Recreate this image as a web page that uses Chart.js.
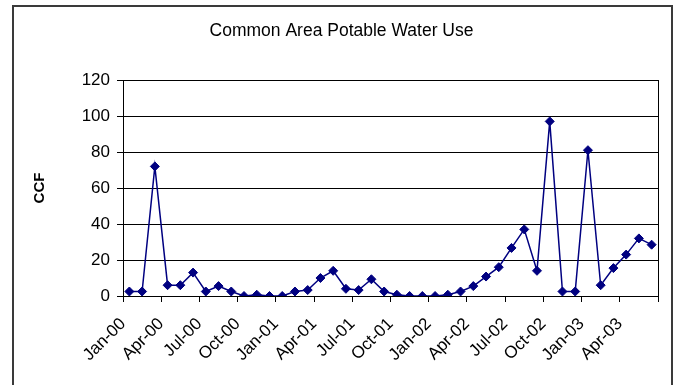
<!DOCTYPE html>
<html>
<head>
<meta charset="utf-8">
<script src="https://cdn.jsdelivr.net/npm/chart.js@4.4.1/dist/chart.umd.min.js"></script>
<style>
    html, body { margin: 0; padding: 0; background: #fff; }
    #wrap { position: relative; width: 675px; height: 385px; overflow: hidden; }
    #frame { position: absolute; left: 12px; top: 5px; width: 657px; height: 420px; border: 2px solid #3a3a3a; }
    #waterChart { position: absolute; left: 0; top: 0; }
</style>
</head>
<body>
<div id="wrap">
    <div id="frame"></div>
    <canvas id="waterChart" width="675" height="385"></canvas>
</div>
<script>
// Monthly readings, Jan-00 .. Jun-03
const months = [
    'Jan-00', 'Feb-00', 'Mar-00', 'Apr-00', 'May-00', 'Jun-00', 'Jul-00', 'Aug-00', 'Sep-00', 'Oct-00', 'Nov-00', 'Dec-00',
    'Jan-01', 'Feb-01', 'Mar-01', 'Apr-01', 'May-01', 'Jun-01', 'Jul-01', 'Aug-01', 'Sep-01', 'Oct-01', 'Nov-01', 'Dec-01',
    'Jan-02', 'Feb-02', 'Mar-02', 'Apr-02', 'May-02', 'Jun-02', 'Jul-02', 'Aug-02', 'Sep-02', 'Oct-02', 'Nov-02', 'Dec-02',
    'Jan-03', 'Feb-03', 'Mar-03', 'Apr-03', 'May-03', 'Jun-03'
];
const ccfValues = [
    2.5, 2.5, 72, 6, 6, 13, 2.5, 5.5, 2.5, 0, 0.7, 0,
    0, 2.5, 3.3, 10, 14, 4, 3.3, 9.3, 2.5, 0.7, 0, 0,
    0, 0.7, 2.5, 5.5, 10.8, 16, 26.7, 37, 14, 97, 2.5, 2.5,
    81, 6, 15.5, 23, 32, 28.5
];
// labels sit on the quarter boundaries, last boundary has no label
const xTickLabels = [
    'Jan-00', 'Apr-00', 'Jul-00', 'Oct-00', 'Jan-01', 'Apr-01', 'Jul-01', 'Oct-01',
    'Jan-02', 'Apr-02', 'Jul-02', 'Oct-02', 'Jan-03', 'Apr-03', ''
];
const yTicks = [0, 20, 40, 60, 80, 100, 120];

const FONT = "'Liberation Sans', Arial, sans-serif";
const NAVY = '#000080';

function renderWaterChart() {
    const ctx = document.getElementById('waterChart').getContext('2d');
    const points = months.map((m, i) => ({ x: i, y: ccfValues[i] }));

    new Chart(ctx, {
        type: 'line',
        data: {
            datasets: [{
                label: 'CCF',
                data: points,
                borderColor: NAVY,
                backgroundColor: NAVY,
                borderWidth: 1.5,
                tension: 0,
                pointStyle: 'rectRot',
                pointRadius: 4.5,
                pointBorderWidth: 1,
                pointBorderColor: NAVY,
                pointBackgroundColor: NAVY
            }]
        },
        options: {
            responsive: false,
            animation: false,
            layout: {
                padding: { left: 25, right: 17, top: 0, bottom: 0 }
            },
            plugins: {
                legend: { display: false },
                tooltip: { enabled: false },
                title: {
                    display: true,
                    text: 'Common Area Potable Water Use',
                    color: '#000',
                    font: { family: FONT, size: 17.5, weight: 'normal' },
                    padding: { top: 21, bottom: 38 }
                }
            },
            scales: {
                x: {
                    type: 'linear',
                    min: -0.5,
                    max: months.length - 0.5,
                    afterBuildTicks: function(scale) {
                        // one tick every quarter, on the month boundaries
                        scale.ticks = xTickLabels.map((l, i) => ({ value: -0.5 + i * 3 }));
                    },
                    afterFit: function(scale) {
                        scale.height = 89;
                        scale.paddingLeft = 0;
                        scale.paddingRight = 0;
                    },
                    ticks: {
                        autoSkip: false,
                        maxRotation: 45,
                        minRotation: 45,
                        padding: 12,
                        color: '#000',
                        font: { family: FONT, size: 17 },
                        callback: function(value, index) {
                            return xTickLabels[index];
                        }
                    },
                    grid: {
                        drawOnChartArea: true,
                        drawTicks: true,
                        tickLength: 6,
                        tickColor: '#000',
                        color: function(c) {
                            // only the right edge of the plot is drawn as a line
                            return c.index === xTickLabels.length - 1 ? '#000' : 'rgba(0,0,0,0)';
                        }
                    },
                    border: { display: true, color: '#000', width: 1 }
                },
                y: {
                    min: 0,
                    max: 120,
                    afterBuildTicks: function(scale) {
                        scale.ticks = yTicks.map(v => ({ value: v }));
                    },
                    afterFit: function(scale) {
                        scale.width = 98;
                    },
                    ticks: {
                        padding: 7,
                        color: '#000',
                        font: { family: FONT, size: 17 }
                    },
                    grid: {
                        color: '#000',
                        lineWidth: 1,
                        drawTicks: true,
                        tickLength: 6,
                        tickColor: '#000'
                    },
                    border: { display: true, color: '#000', width: 1 },
                    title: {
                        display: true,
                        text: 'CCF',
                        color: '#000',
                        font: { family: FONT, size: 15, weight: 'bold' },
                        padding: { top: 6, bottom: 0 }
                    }
                }
            }
        }
    });
}

document.addEventListener('DOMContentLoaded', function() {
    renderWaterChart();
});
</script>
</body>
</html>
